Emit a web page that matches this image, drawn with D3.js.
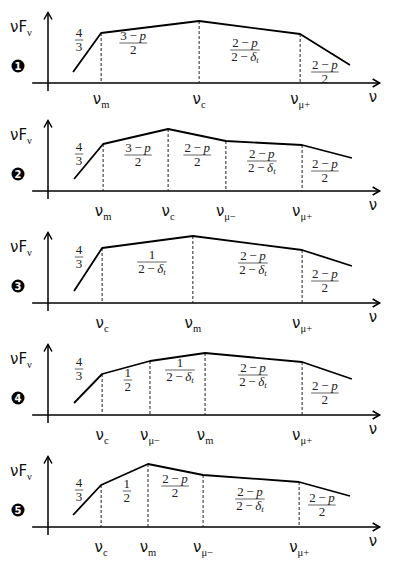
<!DOCTYPE html>
<html>
<head>
<meta charset="utf-8">
<script src="https://cdn.jsdelivr.net/npm/d3@7"></script>
<style>
  body { margin: 0; background: #fff; }
</style>
</head>
<body>
<div id="chart"></div>
<script>
var svgWidth = 407;
var svgHeight = 562;
var panelHeight = 112;

// Regime numbers
var regimes = ["1", "2", "3", "4", "5"];

// Break frequencies (subscript of nu) in each regime
var breakNames = [
  ["m", "c", "μ+"],
  ["m", "c", "μ−", "μ+"],
  ["c", "m", "μ+"],
  ["c", "μ−", "m", "μ+"],
  ["c", "m", "μ−", "μ+"]
];

// log nu of the spectrum vertices (first and last are the ends of the drawn line)
var logNu = [
  [0.76, 1.61, 4.58, 7.64, 9.15],
  [0.79, 1.67, 3.64, 5.39, 7.70, 9.21],
  [0.79, 1.64, 4.39, 7.70, 9.21],
  [0.79, 1.64, 3.09, 4.76, 7.70, 9.21],
  [0.76, 1.61, 3.03, 4.70, 7.61, 9.15]
];

// log nuF_nu of the spectrum vertices
var logFlux = [
  [1.1, 5.0, 6.2, 4.9, 1.8],
  [1.2, 4.7, 6.2, 5.0, 4.6, 3.3],
  [1.2, 5.5, 6.7, 5.3, 3.7],
  [1.2, 4.1, 5.4, 6.2, 5.3, 3.6],
  [1.2, 4.2, 6.3, 5.2, 4.5, 3.1]
];

// Spectral slopes of each segment: [numerator, denominator]
var slopes = [
  [["4", "3"], ["3−p", "2"], ["2−p", "2−δt"], ["2−p", "2"]],
  [["4", "3"], ["3−p", "2"], ["2−p", "2"], ["2−p", "2−δt"], ["2−p", "2"]],
  [["4", "3"], ["1", "2−δt"], ["2−p", "2−δt"], ["2−p", "2"]],
  [["4", "3"], ["1", "2"], ["1", "2−δt"], ["2−p", "2−δt"], ["2−p", "2"]],
  [["4", "3"], ["1", "2"], ["2−p", "2"], ["2−p", "2−δt"], ["2−p", "2"]]
];

// Where each slope label sits, in the same (log nu, log flux) units
var slopeNu = [
  [0.94, 2.58, 5.97, 8.39],
  [0.94, 2.73, 4.52, 6.48, 8.39],
  [0.94, 3.15, 6.21, 8.39],
  [0.94, 2.42, 4.00, 6.21, 8.39],
  [0.94, 2.39, 3.85, 6.12, 8.30]
];
var slopeFlux = [
  [4.3, 4.0, 3.3, 1.1],
  [3.7, 3.6, 3.6, 3.0, 2.0],
  [4.6, 4.1, 4.0, 2.2],
  [4.6, 3.5, 4.5, 4.0, 2.2],
  [3.7, 3.6, 4.1, 2.8, 2.2]
];

var axisYs = [83, 79, 79, 79, 79];

var sans = "'DejaVu Sans', sans-serif";
var serif = "'Liberation Serif', 'DejaVu Serif', serif";

var svg = d3.select('#chart')
  .append('svg')
  .attr('width', svgWidth)
  .attr('height', svgHeight);

// write a small math string into a text element (italic p, delta, subscript t)
function writeMath(textSel, str) {
  var chars = Array.from(str);
  chars.forEach(function(ch, i) {
    var ts = textSel.append('tspan');
    if (ch === '−') {
      ts.text('\u2009−\u2009');
    } else if (ch === 'p' || ch === 'δ') {
      ts.attr('font-style', 'italic').text(ch);
    } else if (ch === 't' && chars[i - 1] === 'δ') {
      ts.attr('font-style', 'italic').attr('font-size', 9).attr('dy', 2.5).text(ch);
    } else {
      ts.text(ch);
    }
  });
}

function drawFraction(g, cx, cy, num, den) {
  var f = g.append('g').attr('class', 'frac');
  var tNum = f.append('text')
    .attr('x', cx).attr('y', cy - 3)
    .attr('text-anchor', 'middle')
    .attr('font-family', serif)
    .attr('font-size', 13)
    .attr('fill', '#222');
  writeMath(tNum, num);
  var tDen = f.append('text')
    .attr('x', cx).attr('y', cy + 10.5)
    .attr('text-anchor', 'middle')
    .attr('font-family', serif)
    .attr('font-size', 13)
    .attr('fill', '#222');
  writeMath(tDen, den);
  var w = Math.max(tNum.node().getComputedTextLength(), tDen.node().getComputedTextLength()) + 2;
  f.append('line')
    .attr('x1', cx - w / 2).attr('x2', cx + w / 2)
    .attr('y1', cy).attr('y2', cy)
    .attr('stroke', '#222')
    .attr('stroke-width', 0.7);
}

// nu label with a serif subscript
function drawNu(g, x, y, sub, anchor) {
  var t = g.append('text')
    .attr('x', x).attr('y', y)
    .attr('text-anchor', anchor || 'middle')
    .attr('fill', '#111');
  t.append('tspan')
    .attr('font-family', sans)
    .attr('font-size', 15)
    .text('ν');
  if (sub) {
    t.append('tspan')
      .attr('font-family', serif)
      .attr('font-size', 10.5)
      .attr('dy', 4)
      .text(sub);
  }
  return t;
}

regimes.forEach(function(reg, i) {
  var axisY = axisYs[i];
  var g = svg.append('g')
    .attr('transform', `translate(0, ${i * panelHeight})`);

  var xScale = d3.scaleLinear().domain([0, 10]).range([48, 378]);
  var yScale = d3.scaleLinear().domain([0, 7]).range([axisY, axisY - 70]);

  // axes
  g.append('line')
    .attr('x1', xScale(-0.48)).attr('x2', xScale(10.05))
    .attr('y1', yScale(0)).attr('y2', yScale(0))
    .attr('stroke', '#000').attr('stroke-width', 1.5);
  g.append('path')
    .attr('d', `M${xScale(10.05) - 7},${yScale(0) - 4} L${xScale(10.05)},${yScale(0)} L${xScale(10.05) - 7},${yScale(0) + 4}`)
    .attr('fill', 'none').attr('stroke', '#000').attr('stroke-width', 1.5);

  g.append('line')
    .attr('x1', xScale(0)).attr('x2', xScale(0))
    .attr('y1', yScale(-0.8)).attr('y2', yScale(7.05))
    .attr('stroke', '#000').attr('stroke-width', 1.5);
  g.append('path')
    .attr('d', `M${xScale(0) - 4},${yScale(7.05) + 7} L${xScale(0)},${yScale(7.05)} L${xScale(0) + 4},${yScale(7.05) + 7}`)
    .attr('fill', 'none').attr('stroke', '#000').attr('stroke-width', 1.5);

  // dashed drops at the breaks
  var pts = logNu[i].map(function(d, j) { return [d, logFlux[i][j]]; });
  var inner = pts.slice(1, pts.length - 1);
  g.selectAll('line.drop')
    .data(inner)
    .enter()
    .append('line')
    .attr('class', 'drop')
    .attr('x1', d => xScale(d[0])).attr('x2', d => xScale(d[0]))
    .attr('y1', d => yScale(d[1])).attr('y2', yScale(0))
    .attr('stroke', '#222')
    .attr('stroke-width', 1)
    .attr('stroke-dasharray', '3,2');

  // spectrum
  var line = d3.line()
    .x(d => xScale(d[0]))
    .y(d => yScale(d[1]));
  g.append('path')
    .datum(pts)
    .attr('d', line)
    .attr('fill', 'none')
    .attr('stroke', '#000')
    .attr('stroke-width', 1.8)
    .attr('stroke-linejoin', 'round');

  // slope labels
  slopes[i].forEach(function(s, k) {
    drawFraction(g, xScale(slopeNu[i][k]), yScale(slopeFlux[i][k]), s[0], s[1]);
  });

  // break frequency labels
  inner.forEach(function(d, k) {
    drawNu(g, xScale(d[0]), 104, breakNames[i][k]);
  });

  // axis titles
  drawNu(g, xScale(9.85), axisY + 19, null);
  var yt = g.append('text')
    .attr('x', 10).attr('y', axisY - 51)
    .attr('fill', '#111');
  yt.append('tspan').attr('font-family', sans).attr('font-size', 15).text('νF');
  yt.append('tspan').attr('font-family', serif).attr('font-size', 10.5).attr('dy', 4).text('ν');

  // regime marker
  g.append('circle')
    .attr('cx', 18).attr('cy', axisY - 17)
    .attr('r', 6.5)
    .attr('fill', '#000');
  g.append('text')
    .attr('x', 18).attr('y', axisY - 13.5)
    .attr('text-anchor', 'middle')
    .attr('font-family', sans)
    .attr('font-weight', 'bold')
    .attr('font-size', 10)
    .attr('fill', '#fff')
    .text(reg);
});
</script>
</body>
</html>
